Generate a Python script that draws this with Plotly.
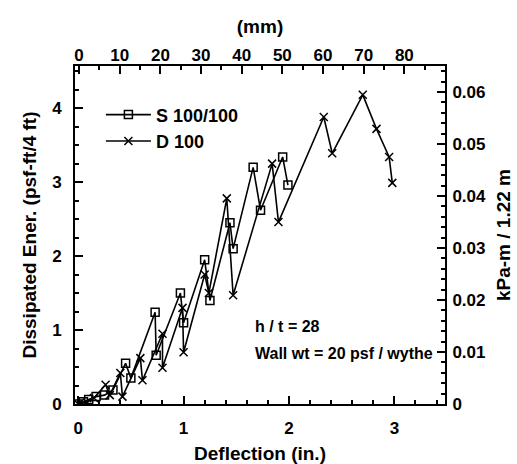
import plotly.graph_objects as go

# Series S 100/100 (deflection in., dissipated energy psf-ft/4 ft)
s_x = [0, 0.05, 0.1, 0.17, 0.25, 0.33, 0.45, 0.5, 0.73, 0.74, 0.97, 1.0, 1.2, 1.25, 1.44, 1.47, 1.66, 1.73, 1.94, 1.99]
s_y = [0, 0.03, 0.06, 0.1, 0.12, 0.19, 0.55, 0.35, 1.24, 0.66, 1.5, 1.1, 1.95, 1.4, 2.45, 2.1, 3.2, 2.62, 3.34, 2.96]

# Series D 100
d_x = [0, 0.08, 0.15, 0.26, 0.3, 0.4, 0.42, 0.59, 0.61, 0.8, 0.8, 0.99, 1.0, 1.2, 1.24, 1.41, 1.47, 1.84, 1.9, 2.33, 2.41, 2.70, 2.83, 2.95, 2.98]
d_y = [0, 0.02, 0.08, 0.26, 0.12, 0.42, 0.1, 0.62, 0.32, 0.95, 0.49, 1.3, 0.7, 1.75, 1.5, 2.78, 1.47, 3.25, 2.46, 3.88, 3.39, 4.18, 3.72, 3.34, 2.99]

x_ticks = [0, 1, 2, 3]
y_ticks = [0, 1, 2, 3, 4]
mm_ticks = [0, 10, 20, 30, 40, 50, 60, 70, 80]
kpa_ticks = [0, 0.01, 0.02, 0.03, 0.04, 0.05, 0.06]

IN_TO_MM = 25.4
PSFFT_TO_KPAM = 0.04788 * 0.3048

FONT = "Liberation Sans, Arial, sans-serif"
tickfont = dict(family=FONT, size=17, color="black", weight="bold")
titlefont = dict(family=FONT, size=19, color="black", weight="bold")

fig = go.Figure()
fig.add_trace(go.Scatter(
    x=s_x, y=s_y, mode="lines+markers", name="S 100/100",
    line=dict(color="black", width=1.6),
    marker=dict(symbol="square-open", size=8, color="black", line=dict(width=1.5)),
))
fig.add_trace(go.Scatter(
    x=d_x, y=d_y, mode="lines+markers", name="D 100",
    line=dict(color="black", width=1.6),
    marker=dict(symbol="x-thin-open", size=8, color="black", line=dict(width=1.5, color="black")),
))
# invisible companions so the metric axes (top mm, right kPa-m) are drawn
fig.add_trace(go.Scatter(
    x=[v * IN_TO_MM for v in d_x], y=d_y, xaxis="x2", yaxis="y",
    mode="markers", marker=dict(opacity=0), showlegend=False, hoverinfo="skip"))
fig.add_trace(go.Scatter(
    x=d_x, y=[v * PSFFT_TO_KPAM for v in d_y], xaxis="x", yaxis="y2",
    mode="markers", marker=dict(opacity=0), showlegend=False, hoverinfo="skip"))

axis_common = dict(showgrid=False, zeroline=False, showline=True, linecolor="black",
                   linewidth=2, ticks="inside", tickcolor="black", ticklen=8, tickwidth=1.5,
                   tickfont=tickfont, automargin=False)

fig.update_layout(
    width=517, height=464,
    margin=dict(l=75, r=72, t=66, b=60),
    paper_bgcolor="white", plot_bgcolor="white",
    showlegend=True,
    legend=dict(x=0.07, y=0.91, xanchor="left", yanchor="top",
                font=dict(family=FONT, size=18, color="black", weight="bold"),
                bgcolor="rgba(0,0,0,0)", tracegroupgap=0, itemwidth=45),
    xaxis=dict(range=[-0.03, 3.48], tickvals=x_ticks, ticktext=[str(v) for v in x_ticks],
               minor=dict(dtick=0.2, ticklen=4, ticks="inside", tickcolor="black"),
               title=dict(text="Deflection (in.)", font=titlefont, standoff=10),
               ticklabelstandoff=8, **axis_common),
    yaxis=dict(range=[0, 4.57], tickvals=y_ticks, ticktext=[str(v) for v in y_ticks],
               minor=dict(dtick=0.25, ticklen=4, ticks="inside", tickcolor="black"),
               title=dict(text="Dissipated Ener. (psf-ft/4 ft)", font=titlefont, standoff=10),
               ticklabelstandoff=8, **axis_common),
    xaxis2=dict(overlaying="x", side="top", anchor="y", range=[-1, 90],
                tickvals=mm_ticks, ticktext=[str(v) for v in mm_ticks],
                minor=dict(dtick=5, ticklen=4, ticks="inside", tickcolor="black"),
                title=dict(text="(mm)", font=titlefont, standoff=8),
                ticklabelstandoff=-4, **axis_common),
    yaxis2=dict(overlaying="y", side="right", anchor="x", range=[0, 0.065],
                tickvals=kpa_ticks, ticktext=[("0" if v == 0 else f"{v:.2f}") for v in kpa_ticks],
                minor=dict(dtick=0.002, ticklen=4, ticks="inside", tickcolor="black"),
                title=dict(text="kPa-m / 1.22 m", font=titlefont, standoff=12),
                ticklabelstandoff=2, **axis_common),
    annotations=[
        dict(x=0.48, y=0.23, xref="paper", yref="paper", xanchor="left", yanchor="middle",
             text="h / t = 28", showarrow=False,
             font=dict(family=FONT, size=16, color="black", weight="bold")),
        dict(x=0.48, y=0.15, xref="paper", yref="paper", xanchor="left", yanchor="middle",
             text="Wall wt = 20 psf / wythe", showarrow=False,
             font=dict(family=FONT, size=16, color="black", weight="bold")),
    ],
)

fig.write_html("out.html")
